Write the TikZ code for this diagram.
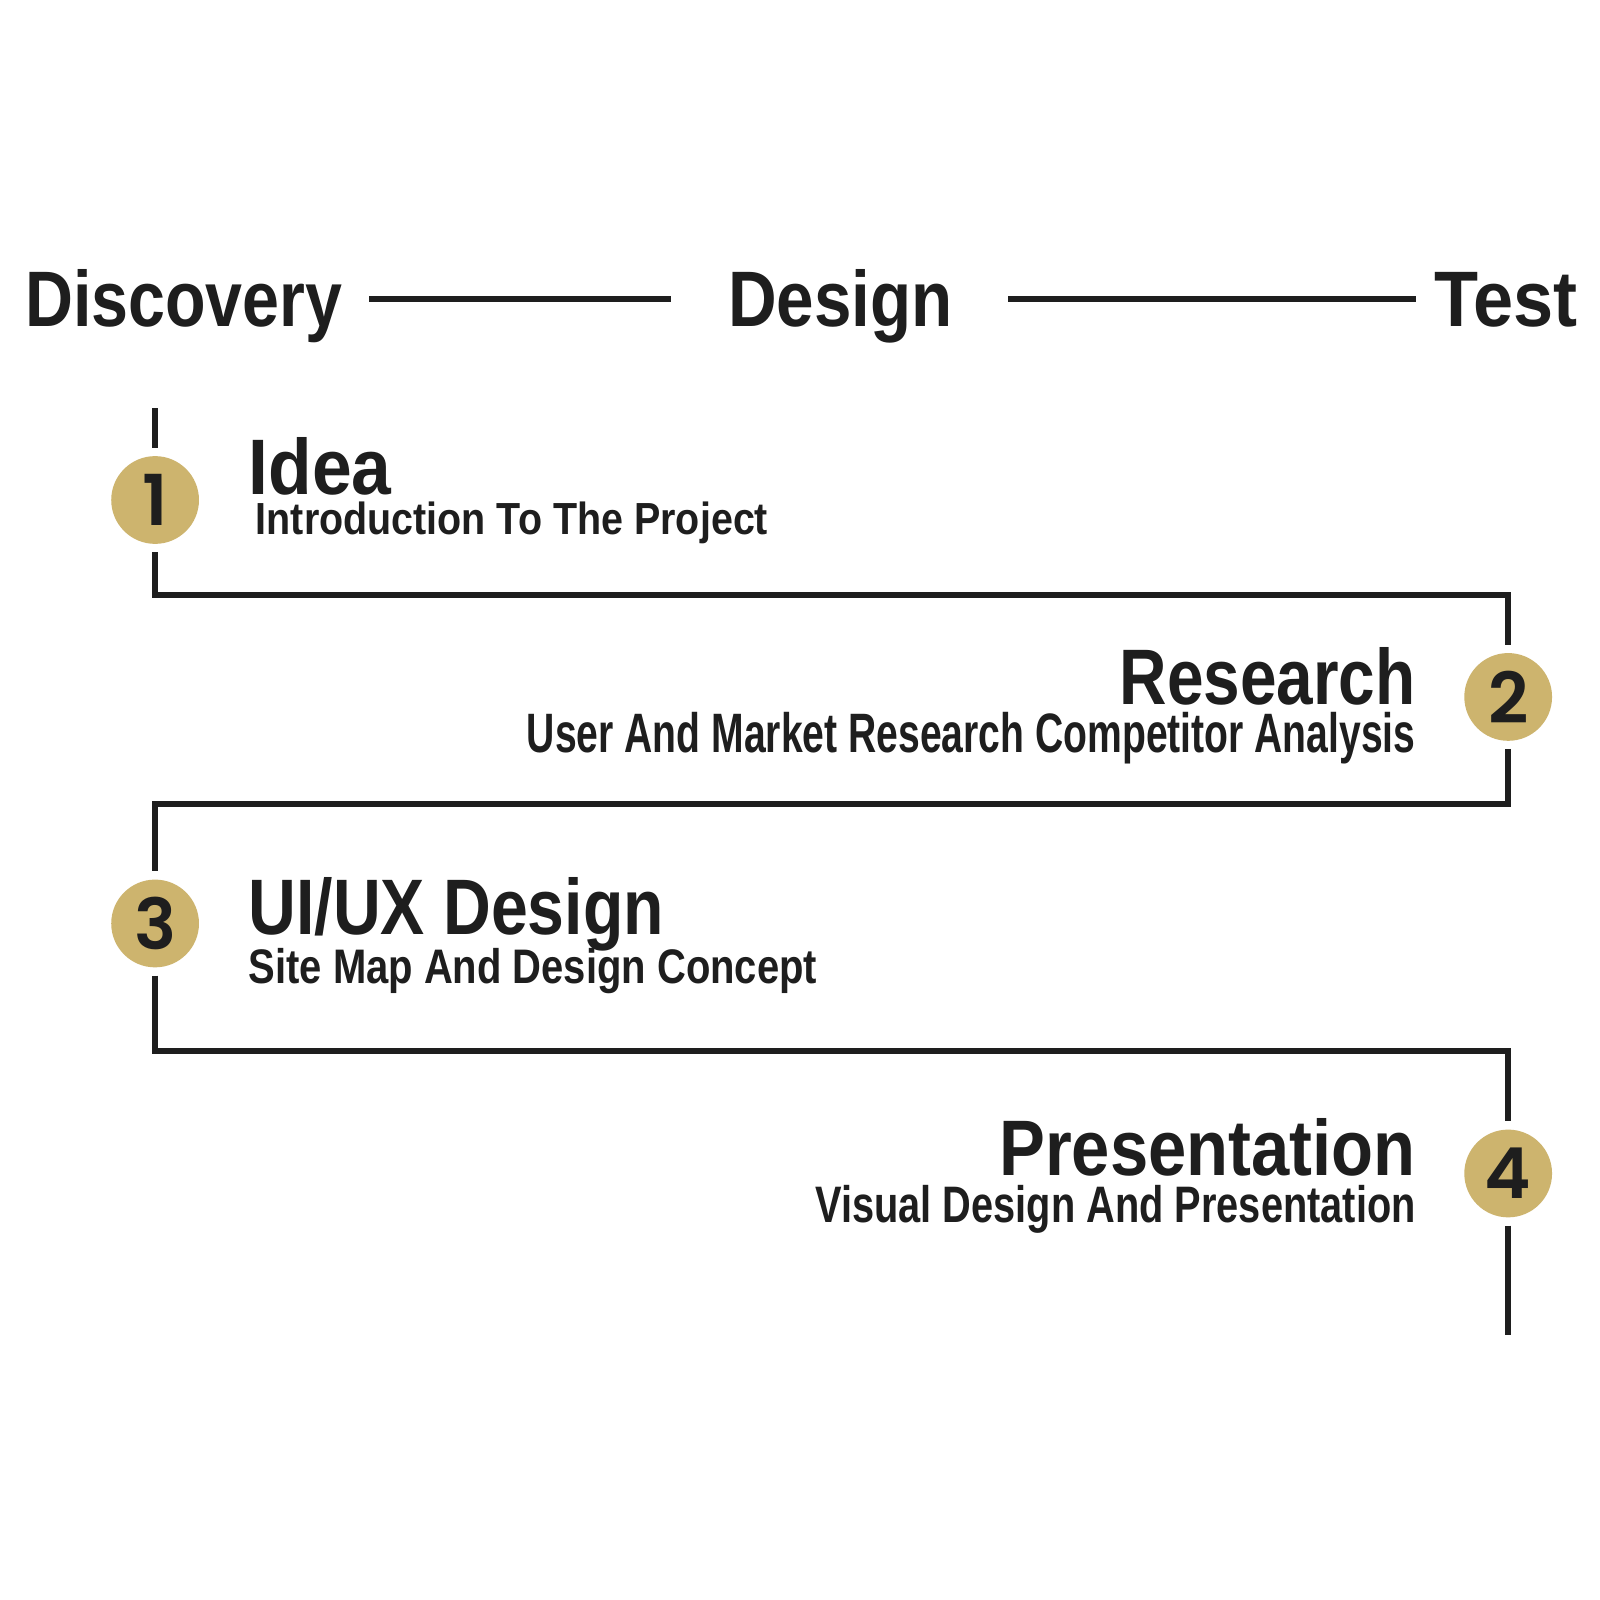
\documentclass[tikz,border=0pt]{standalone}
\usepackage{fontspec}
\setmainfont{Liberation Sans}
\newfontfamily\numfont{Poppins SemiBold}
\usepackage{graphicx}
\definecolor{ink}{HTML}{1E1E1E}
\definecolor{gold}{HTML}{CDB46E}
\newdimen\px \px=0.010204cm
\newcommand\fitw[2]{\resizebox{#1}{\height}{#2}}
\tikzset{
  big/.style={inner sep=0pt, text=ink, font=\fontsize{22.4}{26}\selectfont\bfseries},
  sub/.style={inner sep=0pt, text=ink, font=\bfseries},
  numc/.style={circle, fill=gold, minimum size=86\px, inner sep=0pt, outer sep=8\px,
    text=ink, font=\numfont\fontsize{20}{22}\selectfont},
  conn/.style={draw=ink, line width=6\px, line join=miter}
}
\begin{document}
\begin{tikzpicture}[x=0.010204cm, y=-0.010204cm]
\useasboundingbox[fill=white] (0,0) rectangle (1568,1568);
% header
\node[big, anchor=base west] (disc) at (24,320) {\fitw{311\px}{Discovery}};
\node[big, anchor=base west] (des) at (713,320) {\fitw{220\px}{Design}};
\node[big, anchor=base west] (test) at (1405,320) {\fitw{140\px}{Test}};
\coordinate (l1a) at (362,293);
\coordinate (l1b) at (658,293);
\coordinate (l2a) at (988,293);
\coordinate (l2b) at (1388,293);
\draw[conn] (l1a) -- (l1b);
\draw[conn] (l2a) -- (l2b);
% circles
\node[numc] (c1) at (152,490) {1};
\node[numc] (c2) at (1478,683) {2};
\node[numc] (c3) at (152,905) {3};
\node[numc] (c4) at (1478,1150) {4};
% texts
\node[big, anchor=base west] (t1) at (243,485) {\fitw{140\px}{Idea}};
\node[sub, anchor=base west, font=\bfseries\fontsize{12.8}{14}\selectfont] (s1) at (250,524) {\fitw{502\px}{Introduction To The Project}};
\node[big, anchor=base east] (t2) at (1388,690) {\fitw{290\px}{Research}};
\node[sub, anchor=base east, font=\bfseries\fontsize{15.8}{18}\selectfont] (s2) at (1388,737) {\fitw{871\px}{User And Market Research Competitor Analysis}};
\node[big, anchor=base west] (t3) at (243,916) {\fitw{407\px}{UI/UX Design}};
\node[sub, anchor=base west, font=\bfseries\fontsize{13.8}{16}\selectfont] (s3) at (243,964) {\fitw{557\px}{Site Map And Design Concept}};
\node[big, anchor=base east] (t4) at (1388,1152) {\fitw{408\px}{Presentation}};
\node[sub, anchor=base east, font=\bfseries\fontsize{14.6}{17}\selectfont] (s4) at (1388,1198) {\fitw{588\px}{Visual Design And Presentation}};
% connectors
\coordinate (top) at (152,400);
\coordinate (bot) at (1478,1308);
\coordinate (r1) at (0,583);
\coordinate (r2) at (0,788);
\coordinate (r3) at (0,1030);
\draw[conn] (top) -- (c1.north);
\draw[conn] (c1.south) |- (c2.north |- r1) -- (c2.north);
\draw[conn] (c2.south) |- (c3.north |- r2) -- (c3.north);
\draw[conn] (c3.south) |- (c4.north |- r3) -- (c4.north);
\draw[conn] (c4.south) -- (bot);
\end{tikzpicture}
\end{document}
